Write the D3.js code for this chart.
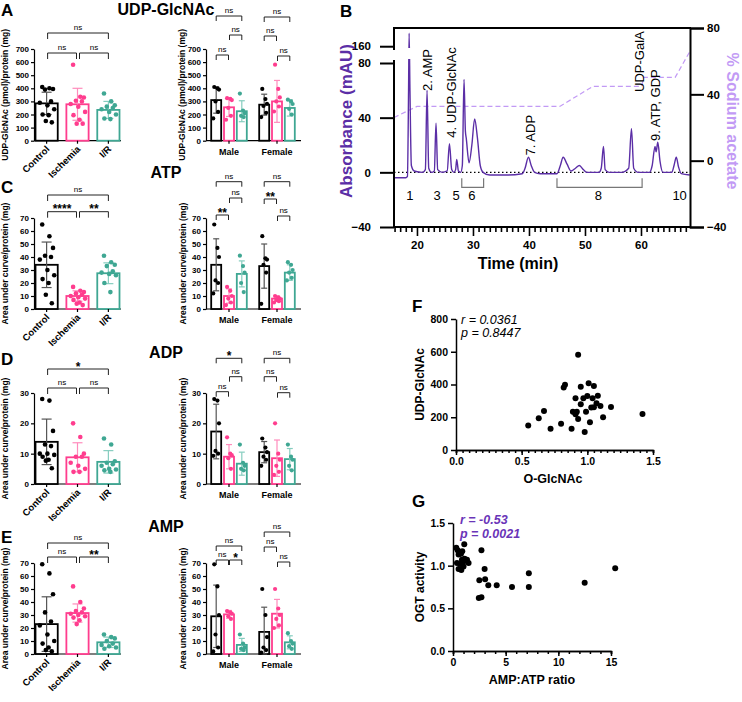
<!DOCTYPE html>
<html lang="en">
<head>
<meta charset="utf-8">
<script src="https://cdn.jsdelivr.net/npm/d3@7"></script>
<title>UDP-GlcNAc / nucleotides</title>
<style>
  body { margin: 0; background: #fff; }
  svg { display: block; }
</style>
</head>
<body>
<svg id="fig" width="742" height="702"></svg>
<script>
// ---------- data ----------
const groups = ["Control", "Ischemia", "I/R"];
const sexes = ["Male", "Female"];

// A: UDP-GlcNAc (pmol)/protein (mg)
const udpPts = [
  [410, 400, 395, 390, 300, 290, 270, 240, 200, 195, 150, 140],
  [580, 335, 330, 305, 300, 280, 260, 220, 195, 160, 130, 130],
  [360, 300, 270, 260, 250, 240, 220, 200, 170, 165]
];
const udpMean = [285, 278, 235];
const udpSd = [85, 122, 65];
const udpMalePts = [[410, 400, 390, 300, 220, 170], [325, 320, 310, 250, 190, 160], [360, 230, 210, 190, 180]];
const udpMaleMean = [310, 255, 225];
const udpMaleSd = [100, 70, 80];
const udpFemalePts = [[395, 318, 282, 265, 213, 180], [580, 395, 330, 300, 261, 223], [313, 300, 280, 243, 200]];
const udpFemaleMean = [275, 300, 250];
const udpFemaleSd = [80, 160, 62];
const udpSig = ["ns", "ns", "ns"];             // ctrl-isch, isch-I/R, ctrl-I/R
const udpSexSig = [["ns", "ns", "ns"], ["ns", "ns", "ns"]]; // per sex: b-p, p-t, b-t

// C: ATP
const atpPts = [
  [65, 56, 47, 41, 40, 38, 30, 26, 23, 20, 11, 4.4],
  [17, 14, 13, 12, 11, 10, 9, 8, 7, 5, 4, 3],
  [41, 36, 34, 33, 29, 28, 27, 26, 20, 13]
];
const atpMean = [34, 10, 27.5];
const atpSd = [17.5, 4, 8];
const atpMalePts = [[65, 47, 40, 22, 20, 12], [17, 14, 10, 8, 5, 3], [41, 33, 28, 20, 13]];
const atpMaleMean = [34, 10, 27];
const atpMaleSd = [20, 5.5, 10];
const atpFemalePts = [[56, 39, 38, 34, 28, 4], [10, 9, 8, 7, 6, 5], [36, 34, 30, 28, 24, 22]];
const atpFemaleMean = [33, 8, 28];
const atpFemaleSd = [17, 2, 6];
const atpSig = ["****", "**", "ns"];
const atpSexSig = [["**", "ns", "ns"], ["**", "ns", "ns"]];

// D: ADP
const adpPts = [
  [28, 27.5, 17.5, 13, 12.5, 10, 10, 9.6, 9, 8, 7.7, 5.2],
  [20, 15.5, 10, 9, 9, 7, 6, 5, 4, 4],
  [15, 13, 7.5, 7, 6.5, 6, 5, 4.8, 4.5, 4]
];
const adpMean = [13.9, 8.8, 7.3];
const adpSd = [7.5, 4.8, 3.7];
const adpMalePts = [[28, 27.5, 20, 10.9, 10, 9.3], [15.4, 10, 9.5, 8.5, 5], [13, 7, 6, 5, 4.5]];
const adpMaleMean = [17.3, 9, 6.7];
const adpMaleSd = [9, 4, 3.8];
const adpFemalePts = [[15, 12, 10.5, 9, 8, 6], [20, 10, 8, 6, 4, 3], [13, 9, 8, 6, 4.5]];
const adpFemaleMean = [10.5, 8.5, 8.2];
const adpFemaleSd = [3.5, 6, 3.5];
const adpSig = ["ns", "ns", "*"];
const adpSexSig = [["ns", "ns", "*"], ["ns", "ns", "ns"]];

// E: AMP
const ampPts = [
  [69, 62, 46, 32, 25, 22, 15, 10, 8, 5, 3, 2],
  [52, 40, 35, 33, 32, 31, 30, 29, 28, 26, 23],
  [15, 13, 12, 10, 8, 7, 6, 5, 4]
];
const ampMean = [23, 31.5, 9];
const ampSd = [21, 7, 4];
const ampMalePts = [[69, 52, 30, 15, 5, 2], [33, 32, 31, 29, 27], [15, 8, 5, 4, 3]];
const ampMaleMean = [29, 30.5, 7];
const ampMaleSd = [24, 3, 5];
const ampFemalePts = [[50, 30, 13, 5, 3, 1], [50, 35, 30, 27, 22, 20], [16, 10, 8, 6, 4]];
const ampFemaleMean = [17, 31, 9];
const ampFemaleSd = [19, 11, 5];
const ampSig = ["ns", "**", "ns"];
const ampSexSig = [["ns", "*", "ns"], ["ns", "ns", "ns"]];

// B: chromatogram (time min, absorbance mAU)
const chromTime = [15.9, 18.0, 18.3, 18.5, 18.6, 18.75, 19.0, 19.5, 21.0, 21.5, 21.8, 22.1, 22.6, 23.1, 23.4, 23.7,
  24.5, 25.4, 25.8, 26.2, 26.6, 26.9, 27.1, 27.4, 27.8, 28.1, 28.4, 28.65, 28.8, 29.3, 29.8, 30.3, 30.8, 31.3, 31.8,
  33, 36, 38.8, 39.3, 39.9, 40.4, 41, 42, 45, 45.6, 46.1, 46.8, 47.5, 48.3, 49, 49.7, 50.3, 52.5, 52.9, 53.3, 53.6,
  54.3, 56.5, 57.8, 58.3, 58.7, 59.5, 61.5, 62.0, 62.5, 62.7, 63.0, 63.4, 63.9, 65.5, 65.9, 66.3, 66.7, 67.2, 68.7];
const chromAbs = [-4, -4, -3, 60, 178, 60, 5, 1, 0, 2, 60, 3, 0, 1, 36, 2,
  0, 1, 21, 2, 0, 2, 9.5, 1, 0, 5, 68, 30, 25, 7, 20, 39, 25, 5, 0,
  -2, -2, -1, 3, 11, 5, 0, -1, -1, 5, 11, 6, 1, 3, 5, 2, 0, 0, 3, 19, 2,
  0, 0, 3, 32, 3, 0, 0, 5, 19, 15, 22, 8, 0, 0, 5, 11, 4, -1, -2];
const gradTime = [15.9, 20, 45.5, 51.4, 60.1, 60.5, 66.1, 68.75];
const gradPct = [26, 32.7, 32.7, 44.8, 44.8, 50.2, 50.2, 66];
const peakNames = ["2. AMP", "4. UDP-GlcNAc", "7. ADP", "UDP-GalA", "9. ATP, GDP"];
const peakNameTime = [22.6, 26.9, 41.1, 60.5, 63.4];
const peakNameAbs = [59.5, 25.4, 12.4, 58.8, 22.9];
const peakNums = ["1", "3", "5", "6", "8", "10"];
const peakNumTime = [18.75, 23.6, 27, 29.8, 52.4, 66.9];
const peakSpans = [[28.0, 31.9], [45.0, 60.2]];

// F: UDP-GlcNAc vs O-GlcNAc
const fX = [0.93, 0.83, 0.82, 0.95, 1.01, 1.05, 0.91, 0.97, 1.00, 1.08, 1.04, 0.95, 1.07, 1.10, 1.03, 1.05, 1.18,
  0.89, 0.92, 0.91, 0.99, 0.67, 0.63, 0.55, 0.72, 0.80, 0.88, 0.93, 0.98, 1.02, 1.12, 1.42];
const fY = [581, 398, 381, 387, 408, 391, 316, 316, 330, 332, 316, 279, 286, 269, 259, 261, 263,
  234, 234, 218, 234, 238, 194, 150, 130, 160, 130, 190, 110, 170, 200, 220];

// G: OGT activity vs AMP:ATP ratio
const gX = [1.07, 0.31, 0.44, 0.88, 0.76, 0.53, 1.10, 1.33, 0.85, 1.0, 0.38, 1.48, 0.69, 1.0, 0.53, 0.79,
  2.7, 3.0, 2.5, 3.05, 3.35, 4.15, 5.6, 7.2, 7.2, 12.5, 15.4, 2.45, 2.7];
const gY = [1.25, 1.21, 1.18, 1.17, 1.14, 1.13, 1.08, 1.07, 1.07, 1.05, 1.03, 1.03, 1.02, 0.99, 0.96, 0.95,
  1.18, 0.96, 0.83, 0.84, 0.77, 0.77, 0.75, 0.91, 0.75, 0.80, 0.97, 0.62, 0.63];

// ---------- drawing ----------
const FONT = "Arial, 'Liberation Sans', Helvetica, sans-serif";
const groupColor = ["#000000", "#ff3d8e", "#3fa793"];
const errColor = ["#555555", "#ff8cbc", "#86cdbf"];
const jit = [-0.55, 0.35, 0.8, -0.2, 0.55, -0.85, 0.1, 0.95, -0.5, 0.25, -0.1, 0.65];

const svg = d3.select("#fig").attr("font-family", FONT);
svg.append("rect").attr("width", 742).attr("height", 702).attr("fill", "#fff");

function txt(x, y, s, size, opts = {}) {
  const t = svg.append("text").attr("x", x).attr("y", y).text(s)
    .attr("font-size", size).attr("font-weight", opts.weight || "bold")
    .attr("fill", opts.fill || "#000").attr("text-anchor", opts.anchor || "start");
  if (opts.italic) t.attr("font-style", "italic");
  if (opts.rot) t.attr("transform", `rotate(${opts.rot},${x},${y})`);
  return t;
}

function styleAxis(sel, size, width) {
  sel.attr("font-family", FONT).attr("font-size", size).attr("font-weight", "bold");
  sel.select(".domain").attr("stroke", "#000").attr("stroke-width", width);
  sel.selectAll(".tick line").attr("stroke", "#000").attr("stroke-width", width);
  sel.selectAll(".tick text").attr("fill", "#000");
}

function drawGroup(g, cx, w, mean, sd, pts, ci, y, spread, r, cap) {
  g.append("rect").attr("x", cx - w / 2).attr("y", y(mean)).attr("width", w)
    .attr("height", y(0) - y(mean)).attr("fill", "#fff")
    .attr("stroke", groupColor[ci]).attr("stroke-width", 1.8);
  const lo = Math.max(0, mean - sd), hi = mean + sd;
  g.append("line").attr("x1", cx).attr("x2", cx).attr("y1", y(lo)).attr("y2", y(hi))
    .attr("stroke", errColor[ci]).attr("stroke-width", 1.2);
  [lo, hi].forEach(v => g.append("line").attr("x1", cx - cap).attr("x2", cx + cap)
    .attr("y1", y(v)).attr("y2", y(v)).attr("stroke", errColor[ci]).attr("stroke-width", 1.2));
  g.selectAll(null).data(pts).enter().append("circle")
    .attr("cx", (d, i) => cx + jit[i % jit.length] * spread)
    .attr("cy", d => y(d)).attr("r", r).attr("fill", groupColor[ci]);
}

function bracket(g, xa, xb, yb, label, drop) {
  g.append("path").attr("d", `M${xa},${yb + drop}V${yb}H${xb}V${yb + drop}`)
    .attr("fill", "none").attr("stroke", "#222").attr("stroke-width", 1);
  const star = label !== "ns";
  g.append("text").attr("x", (xa + xb) / 2).attr("y", star ? yb + 1.5 : yb - 3)
    .attr("text-anchor", "middle").attr("font-size", star ? 12 : 8)
    .attr("font-weight", star ? "bold" : "normal").text(label);
}

function yTitle(x, yc, s) {
  txt(x, yc, s, 8.5, { anchor: "middle", rot: -90 });
}

function groupPanel(o) {
  const g = svg.append("g");
  const y = d3.scaleLinear().domain([0, o.max]).range([o.y0, o.y1]);
  const x = d3.scaleBand().domain(groups).range([35.5, 119.5]).paddingInner(0.28);
  const ax = 34;
  g.append("g").attr("transform", `translate(${ax},0)`)
    .call(d3.axisLeft(y).tickValues(d3.range(0, o.max + 0.01, o.step)).tickSize(3).tickSizeOuter(0).tickPadding(2))
    .call(styleAxis, 8, 1.2);
  g.append("line").attr("x1", ax).attr("x2", 121).attr("y1", o.y0).attr("y2", o.y0)
    .attr("stroke", "#000").attr("stroke-width", 1.2);
  const cx = groups.map(n => x(n) + x.bandwidth() / 2);
  groups.forEach((n, i) => {
    drawGroup(g, cx[i], x.bandwidth(), o.mean[i], o.sd[i], o.pts[i], i, y, 8, 2.3, 5);
    g.append("line").attr("x1", cx[i]).attr("x2", cx[i]).attr("y1", o.y0).attr("y2", o.y0 + 3)
      .attr("stroke", "#000").attr("stroke-width", 1.2);
    g.append("text").attr("transform", `translate(${cx[i] + 3.5},${o.y0 + 9}) rotate(-45)`)
      .attr("text-anchor", "end").attr("font-size", 9.5).attr("font-weight", "bold").text(n);
  });
  bracket(g, cx[0] + 1, cx[1] - 1, o.br.low, o.sig[0], 6);
  bracket(g, cx[1] + 2, cx[2], o.br.low, o.sig[1], 6);
  bracket(g, cx[0] + 1, cx[2], o.br.top, o.sig[2], 6);
  yTitle(8, (o.y0 + o.y1) / 2, o.label);
}

function sexPanel(o) {
  const g = svg.append("g");
  const y = d3.scaleLinear().domain([0, o.max]).range([o.y0, o.y1]);
  const xs = d3.scaleBand().domain(sexes).range([205, 301]);
  const xi = d3.scaleBand().domain(groups).range([-17.8, 17.8]).paddingInner(0.22);
  const ax = 206;
  g.append("g").attr("transform", `translate(${ax},0)`)
    .call(d3.axisLeft(y).tickValues(d3.range(0, o.max + 0.01, o.step)).tickSize(3).tickSizeOuter(0).tickPadding(2))
    .call(styleAxis, 8, 1.2);
  g.append("line").attr("x1", ax).attr("x2", 301).attr("y1", o.y0).attr("y2", o.y0)
    .attr("stroke", "#000").attr("stroke-width", 1.2);
  sexes.forEach((s, si) => {
    const c = xs(s) + xs.bandwidth() / 2;
    const cx = groups.map(n => c + xi(n) + xi.bandwidth() / 2);
    groups.forEach((n, i) => drawGroup(g, cx[i], xi.bandwidth(), o.mean[si][i], o.sd[si][i], o.pts[si][i], i, y, 3.5, 2.1, 3));
    g.append("line").attr("x1", c).attr("x2", c).attr("y1", o.y0).attr("y2", o.y0 + 3)
      .attr("stroke", "#000").attr("stroke-width", 1.2);
    g.append("text").attr("x", c).attr("y", o.y0 + 14).attr("text-anchor", "middle")
      .attr("font-size", 9).attr("font-weight", "bold").text(s);
    const b = o.br[si];
    bracket(g, cx[0], cx[1] - 0.5, b.bp, o.sig[si][0], 5);
    bracket(g, cx[1] + 0.5, cx[2], b.pt, o.sig[si][1], 5);
    bracket(g, cx[0], cx[2], b.bt, o.sig[si][2], 5);
  });
  yTitle(185.5, (o.y0 + o.y1) / 2, o.label);
}

// panel letters and titles
[["A", 1, 16], ["B", 340, 17], ["C", 1, 193], ["D", 1, 365], ["E", 1, 543], ["F", 412, 312], ["G", 412, 507]]
  .forEach(([s, x, y]) => txt(x, y, s, 17));
[["UDP-GlcNAc", 14.5], ["ATP", 178], ["ADP", 358], ["AMP", 532]]
  .forEach(([s, y]) => txt(166, y, s, 16, { anchor: "middle" }));

const auc = "Area under curve/protein (mg)";
const udpLab = "UDP-GlcNAc (pmol)/protein (mg)";

groupPanel({ y0: 140.7, y1: 49, max: 700, step: 100, pts: udpPts, mean: udpMean, sd: udpSd, sig: udpSig, br: { low: 53, top: 33 }, label: udpLab });
sexPanel({ y0: 140.7, y1: 49, max: 700, step: 100, pts: [udpMalePts, udpFemalePts], mean: [udpMaleMean, udpFemaleMean], sd: [udpMaleSd, udpFemaleSd], sig: udpSexSig,
  br: [{ bp: 55, pt: 35, bt: 16 }, { bp: 36, pt: 56, bt: 17 }], label: udpLab });

groupPanel({ y0: 309, y1: 218, max: 70, step: 10, pts: atpPts, mean: atpMean, sd: atpSd, sig: atpSig, br: { low: 211.7, top: 195 }, label: auc });
sexPanel({ y0: 309, y1: 218, max: 70, step: 10, pts: [atpMalePts, atpFemalePts], mean: [atpMaleMean, atpFemaleMean], sd: [atpMaleSd, atpFemaleSd], sig: atpSexSig,
  br: [{ bp: 215, pt: 198, bt: 181.7 }, { bp: 199, pt: 216, bt: 181.7 }], label: auc });

groupPanel({ y0: 484, y1: 393, max: 30, step: 10, pts: adpPts, mean: adpMean, sd: adpSd, sig: adpSig, br: { low: 388, top: 369 }, label: auc });
sexPanel({ y0: 484, y1: 393, max: 30, step: 10, pts: [adpMalePts, adpFemalePts], mean: [adpMaleMean, adpFemaleMean], sd: [adpMaleSd, adpFemaleSd], sig: adpSexSig,
  br: [{ bp: 391.7, pt: 376.7, bt: 358.3 }, { bp: 376.7, pt: 392.7, bt: 358.3 }], label: auc });

groupPanel({ y0: 654, y1: 563, max: 70, step: 10, pts: ampPts, mean: ampMean, sd: ampSd, sig: ampSig, br: { low: 557, top: 543 }, label: auc });
sexPanel({ y0: 654, y1: 563, max: 70, step: 10, pts: [ampMalePts, ampFemalePts], mean: [ampMaleMean, ampFemaleMean], sd: [ampMaleSd, ampFemaleSd], sig: ampSexSig,
  br: [{ bp: 560, pt: 560, bt: 546 }, { bp: 547, pt: 562, bt: 532 }], label: auc });

// ---------- B: chromatogram ----------
const purple = "#5b2ea6";
const lilac = "#c29af5";
const bx = d3.scaleLinear().domain([15.9, 68.75]).range([394, 690]);
const by = d3.scaleLinear().domain([-40, 80, 150, 185]).range([227, 63, 53.5, 28]);
const byR = d3.scaleLinear().domain([-40, 80]).range([227, 28]);

const defs = svg.append("defs");
defs.append("clipPath").attr("id", "clipLo").append("rect").attr("x", 394).attr("y", 59).attr("width", 296).attr("height", 170);
defs.append("clipPath").attr("id", "clipHi").append("rect").attr("x", 394).attr("y", 28).attr("width", 296).attr("height", 20);

const B = svg.append("g");
// zero line
B.append("line").attr("x1", 394).attr("x2", 690).attr("y1", by(0)).attr("y2", by(0))
  .attr("stroke", "#000").attr("stroke-width", 1.4).attr("stroke-dasharray", "1.5,2.5");
// gradient
const gradLine = d3.line().x(i => bx(gradTime[i])).y(i => byR(gradPct[i]));
B.append("path").attr("d", gradLine(d3.range(gradTime.length))).attr("fill", "none")
  .attr("stroke", lilac).attr("stroke-width", 1.2).attr("stroke-dasharray", "5,3");
// trace
const trace = d3.line().x(i => bx(chromTime[i])).y(i => by(chromAbs[i])).curve(d3.curveMonotoneX);
["clipLo", "clipHi"].forEach(id => B.append("path").attr("clip-path", `url(#${id})`)
  .attr("d", trace(d3.range(chromTime.length))).attr("fill", "none")
  .attr("stroke", purple).attr("stroke-width", 1.4));

// axes
const bl = B.append("g").attr("transform", "translate(394,0)")
  .call(d3.axisLeft(by).tickValues([-40, 0, 40, 80, 160]).tickSize(14).tickPadding(9))
  .call(styleAxis, 11.5, 2);
bl.select(".domain").remove();
B.append("path").attr("d", "M394,28V50M394,60V227").attr("stroke", "#000").attr("stroke-width", 2);
const br = B.append("g").attr("transform", "translate(690,0)")
  .call(d3.axisRight(byR).tickValues([-40, 0, 40, 80]).tickSize(14).tickPadding(3))
  .call(styleAxis, 11.5, 2);
B.append("line").attr("x1", 393).attr("x2", 691).attr("y1", 28).attr("y2", 28).attr("stroke", "#000").attr("stroke-width", 2);
const bb = B.append("g").attr("transform", "translate(0,227)")
  .call(d3.axisBottom(bx).tickValues(d3.range(16, 69, 1)).tickSize(5).tickPadding(4)
    .tickFormat(d => d % 10 === 0 ? d : ""))
  .call(styleAxis, 11.5, 1.6);
bb.select(".domain").remove();
bb.selectAll(".tick line").attr("y2", d => d % 10 === 0 ? 9 : 5);
bb.selectAll(".tick text").attr("dy", "1.1em");
B.append("line").attr("x1", 393).attr("x2", 691).attr("y1", 227).attr("y2", 227).attr("stroke", "#000").attr("stroke-width", 2);

txt(518, 269, "Time (min)", 16, { anchor: "middle" });
txt(352, 121, "Absorbance (mAU)", 17, { anchor: "middle", rot: -90, fill: purple });
txt(727, 121, "% Sodium acetate", 16, { anchor: "middle", rot: 90, fill: lilac });

peakNames.forEach((s, i) => {
  const x = bx(peakNameTime[i]), y = by(peakNameAbs[i]);
  txt(x, y, s, 13, { weight: "normal", rot: -90 });
});
peakNums.forEach((s, i) => txt(bx(peakNumTime[i]), by(-20.5), s, 13, { weight: "normal", anchor: "middle" }));
peakSpans.forEach(([a, b]) => B.append("path")
  .attr("d", `M${bx(a)},${by(-4.4)}V${by(-11)}H${bx(b)}V${by(-4.4)}`)
  .attr("fill", "none").attr("stroke", "#777").attr("stroke-width", 1.2));

// ---------- F ----------
const fx = d3.scaleLinear().domain([0, 1.5]).range([456, 653]);
const fy = d3.scaleLinear().domain([0, 800]).range([450, 319]);
svg.append("g").attr("transform", "translate(0,450)")
  .call(d3.axisBottom(fx).tickValues(d3.range(0, 31).map(i => i * 0.05)).tickSize(3).tickFormat(""))
  .call(styleAxis, 10.5, 1.5);
svg.append("g").attr("transform", "translate(0,450)")
  .call(d3.axisBottom(fx).tickValues([0, 0.5, 1, 1.5]).tickSize(5).tickSizeOuter(0).tickFormat(d3.format(".1f")))
  .call(styleAxis, 10.5, 1.5);
svg.append("g").attr("transform", "translate(456,0)")
  .call(d3.axisLeft(fy).tickValues([0, 200, 400, 600, 800]).tickSize(5).tickSizeOuter(0))
  .call(styleAxis, 10.5, 1.5);
svg.append("g").selectAll("circle").data(fX).enter().append("circle")
  .attr("cx", d => fx(d)).attr("cy", (d, i) => fy(fY[i])).attr("r", 3).attr("fill", "#000");
txt(553, 483, "O-GlcNAc", 12.5, { anchor: "middle" });
txt(424, 384.5, "UDP-GlcNAc", 12, { anchor: "middle", rot: -90 });
txt(461, 324, "r = 0.0361", 12.5, { weight: "normal", italic: true });
txt(461, 337, "p = 0.8447", 12.5, { weight: "normal", italic: true });

// ---------- G ----------
const gx = d3.scaleLinear().domain([0, 15]).range([453, 611]);
const gy = d3.scaleLinear().domain([0, 1.5]).range([651, 523]);
svg.append("g").attr("transform", "translate(0,651)")
  .call(d3.axisBottom(gx).tickValues(d3.range(0, 16)).tickSize(3).tickFormat(""))
  .call(styleAxis, 10.5, 1.5);
svg.append("g").attr("transform", "translate(0,651)")
  .call(d3.axisBottom(gx).tickValues([0, 5, 10, 15]).tickSize(5).tickSizeOuter(0))
  .call(styleAxis, 10.5, 1.5);
svg.append("g").attr("transform", "translate(453,0)")
  .call(d3.axisLeft(gy).tickValues([0, 0.5, 1, 1.5]).tickSize(5).tickSizeOuter(0).tickFormat(d3.format(".1f")))
  .call(styleAxis, 10.5, 1.5);
svg.append("g").selectAll("circle").data(gX).enter().append("circle")
  .attr("cx", d => gx(d)).attr("cy", (d, i) => gy(gY[i])).attr("r", 3).attr("fill", "#000");
txt(532, 684, "AMP:ATP ratio", 12.5, { anchor: "middle" });
txt(424, 587, "OGT activity", 12, { anchor: "middle", rot: -90 });
txt(460, 523.5, "r = -0.53", 12.5, { italic: true, fill: "#6a35b8" });
txt(460, 537.5, "p = 0.0021", 12.5, { italic: true, fill: "#6a35b8" });
</script>
</body>
</html>
